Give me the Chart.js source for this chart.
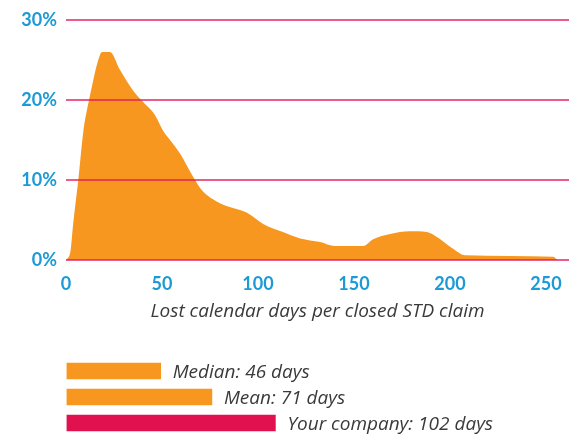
<!DOCTYPE html>
<html>
<head>
<meta charset="utf-8">
<script src="https://cdn.jsdelivr.net/npm/chart.js@4/dist/chart.umd.min.js"></script>
<style>
  html, body { margin: 0; padding: 0; background: #fff; overflow: hidden; }
  #wrap { position: relative; width: 579px; height: 436px; }
  #curve { position: absolute; left: 0; top: 0; }
  #stats { position: absolute; left: 0; top: 358px; }
</style>
</head>
<body>
<div id="wrap">
  <canvas id="curve" width="579" height="330"></canvas>
  <canvas id="stats" width="579" height="78"></canvas>
</div>
<script>
// distribution of lost days (x) vs share of closed claims in % (y)
const days = [0, 2.4, 3.6, 6.4, 9, 12, 13.5, 16.2, 18.8, 22.9, 28, 34.9, 40, 46.4, 50.5, 54.2, 59.4, 66.2, 70.7, 80.2, 87, 94.3, 102.7, 113, 122, 132.4, 140, 154.8, 160, 168.8, 179, 188, 193, 201, 207.9, 253.8, 255.9]
const share = [0, 1.2, 4.2, 10, 16, 20, 21.7, 24.5, 26, 26, 23.8, 21.2, 19.8, 18.1, 16.2, 15, 13.3, 10.4, 8.75, 7.1, 6.5, 5.9, 4.5, 3.5, 2.7, 2.25, 1.75, 1.75, 2.6, 3.25, 3.6, 3.5, 2.9, 1.5, 0.6, 0.4, 0]
const yTicks = [0, 10, 20, 30]
const xTicks = [0, 50, 100, 150, 200, 250]

// summary bars underneath
const statLabels = ['Median: 46 days', 'Mean: 71 days', 'Your company: 102 days']
const statValues = [46, 71, 102]

const ORANGE = '#f7971f'
const CRIMSON = '#e1104f'
const BLUE = '#1b9ad6'
const GRID = 'rgba(226, 30, 90, 0.72)'
const TEXT_FONT = '"Open Sans"'
const TEXT_COLOR = '#3a3a3a'

new Chart(document.getElementById('curve'), {
  type: 'line',
  data: {
    datasets: [{
      data: days.map((d, i) => ({ x: d, y: share[i] })),
      fill: 'origin',
      backgroundColor: ORANGE,
      borderWidth: 0,
      pointRadius: 0,
      tension: 0.3,
      cubicInterpolationMode: 'monotone'
    }]
  },
  options: {
    responsive: false,
    animation: false,
    layout: { padding: { top: 20, right: 10, left: 0, bottom: 0 } },
    plugins: { legend: { display: false }, tooltip: { enabled: false } },
    scales: {
      x: {
        type: 'linear',
        min: 0,
        max: 262,
        border: { display: false },
        grid: { display: false },
        afterFit (scale) { scale.height = 70 },
        afterBuildTicks (scale) { scale.ticks = xTicks.map(v => ({ value: v })) },
        ticks: {
          padding: 5,
          color: BLUE,
          font: { family: 'Lato', weight: 'bold', size: 18 }
        },
        title: {
          display: true,
          text: 'Lost calendar days per closed STD claim',
          color: TEXT_COLOR,
          padding: { top: 0, bottom: 7 },
          font: { family: TEXT_FONT, style: 'italic', size: 19 }
        }
      },
      y: {
        min: 0,
        max: 30,
        border: { display: false },
        grid: { color: GRID, lineWidth: 2, drawTicks: false, z: 1 },
        afterFit (scale) { scale.width = 66 },
        afterBuildTicks (scale) { scale.ticks = yTicks.map(v => ({ value: v })) },
        ticks: {
          padding: 9,
          color: BLUE,
          font: { family: 'Lato', weight: 'bold', size: 18 },
          callback: v => v + '%'
        }
      }
    }
  }
})

// write the label right after each bar
const barLabels = {
  id: 'barLabels',
  afterDatasetsDraw (chart) {
    const { ctx } = chart
    const meta = chart.getDatasetMeta(0)
    ctx.save()
    ctx.fillStyle = TEXT_COLOR
    ctx.font = 'italic 19px ' + TEXT_FONT
    ctx.textBaseline = 'middle'
    meta.data.forEach((bar, i) => {
      ctx.fillText(statLabels[i], bar.x + 12, bar.y + 2)
    })
    ctx.restore()
  }
}

new Chart(document.getElementById('stats'), {
  type: 'bar',
  data: {
    labels: statLabels,
    datasets: [{
      data: statValues,
      backgroundColor: [ORANGE, ORANGE, CRIMSON],
      barThickness: 16
    }]
  },
  options: {
    indexAxis: 'y',
    responsive: false,
    animation: false,
    layout: { padding: { left: 66.5, right: 21, top: 0, bottom: 0 } },
    plugins: { legend: { display: false }, tooltip: { enabled: false } },
    scales: {
      x: { min: 0, max: 240, display: false },
      y: { display: false }
    }
  },
  plugins: [barLabels]
})
</script>
</body>
</html>
